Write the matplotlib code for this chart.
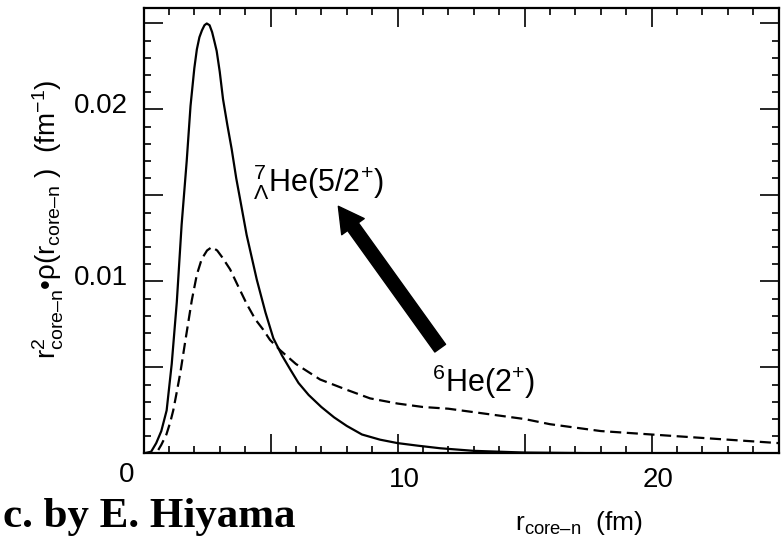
import matplotlib
matplotlib.use("Agg")
import matplotlib.pyplot as plt
import matplotlib.transforms as mtransforms
import numpy as np

plt.rcParams.update({
    "font.family": "Liberation Sans",
    "mathtext.fontset": "custom",
    "mathtext.rm": "Liberation Sans",
    "mathtext.it": "Liberation Sans:italic",
    "mathtext.bf": "Liberation Sans:bold",
})

# 7_Lambda He(5/2+) core-n density (solid)
lam_r = [0.0, 0.3, 0.5, 0.7, 0.91, 1.11, 1.31, 1.5, 1.7, 1.85, 2.0, 2.1, 2.2, 2.3, 2.4,
         2.49, 2.6, 2.7, 2.8, 2.88, 3.0, 3.13, 3.3, 3.47, 3.65, 3.8, 4.06, 4.46, 4.8,
         5.11, 5.45, 5.77, 6.1, 6.5, 7.0, 7.5, 8.0, 8.6, 9.31, 10.0, 10.8, 11.68, 13.0,
         15.0, 18.0, 25.0]
lam_rho = [0.0, 0.0001, 0.0006, 0.0013, 0.0025, 0.0052, 0.0088, 0.0133, 0.0170, 0.0202,
           0.0224, 0.0235, 0.0242, 0.0246, 0.0249, 0.0250, 0.0249, 0.0245, 0.0239, 0.0234,
           0.0222, 0.0206, 0.0191, 0.0177, 0.0160, 0.0148, 0.0127, 0.0101, 0.0082,
           0.0067, 0.0057, 0.0049, 0.0041, 0.0034, 0.0027, 0.0021, 0.0016, 0.0011, 0.0008,
           0.0006, 0.00045, 0.0003, 0.00015, 0.00005, 0.00001, 0.0]

# 6He(2+) core-n density (dashed)
he_r = [0.0, 0.5, 0.7, 0.9, 1.05, 1.17, 1.3, 1.45, 1.63, 1.9, 2.1, 2.29, 2.5, 2.69, 2.9,
        3.1, 3.41, 3.7, 4.06, 4.4, 4.71, 4.98, 5.38, 6.0, 6.95, 8.0, 8.92, 10.0, 11.0,
        12.0, 13.0, 14.0, 15.0, 16.0, 17.0, 18.0, 19.0, 20.0, 21.0, 22.0, 23.0, 24.0, 25.0]
he_rho = [0.0, 0.0, 0.0005, 0.0011, 0.0018, 0.0025, 0.0035, 0.0047, 0.0064, 0.0089, 0.0104,
          0.0113, 0.0118, 0.0120, 0.0118, 0.0114, 0.0107, 0.0098, 0.0087, 0.0078, 0.0072,
          0.0066, 0.0060, 0.0052, 0.0043, 0.0037, 0.0032, 0.0029, 0.0027, 0.0026, 0.0024,
          0.0022, 0.0020, 0.0017, 0.0015, 0.0013, 0.0012, 0.0011, 0.0010, 0.0009, 0.0008,
          0.0007, 0.0006]

x_major = [0, 5, 10, 15, 20, 25]
x_labels = ["", "", "10", "", "20", ""]
y_major = [0.0, 0.005, 0.01, 0.015, 0.02, 0.025]
y_labels = ["", "", "0.01", "", "0.02", ""]

fig = plt.figure(figsize=(7.83, 5.49), dpi=100)
fig.patch.set_facecolor("white")
ax = fig.add_axes([0.1833, 0.1741, 0.811, 0.8113])

ax.plot(lam_r, lam_rho, color="black", lw=1.6, solid_joinstyle="round")
ax.plot(he_r, he_rho, color="black", lw=1.6, linestyle=(0, (5, 2.5)))

ax.set_xlim(0, 25)
ax.set_ylim(0, 0.0259)

ax.set_xticks(x_major, x_labels)
ax.set_xticks(np.arange(0, 26, 1), minor=True)
ax.set_yticks(y_major, y_labels)
ax.set_yticks(np.arange(0, 0.026, 0.001), minor=True)
ax.tick_params(which="both", direction="in", top=True, right=True, labelsize=20)
ax.tick_params(which="major", length=14, width=1.2)
ax.tick_params(which="minor", length=5, width=1.2)
ax.tick_params(axis="x", pad=10)
ax.tick_params(axis="y", pad=11)
for s in ax.spines.values():
    s.set_linewidth(1.6)

# shift tick labels like the original
dx = mtransforms.ScaledTranslation(5 / 72, 0, fig.dpi_scale_trans)
dy = mtransforms.ScaledTranslation(0, 5 / 72, fig.dpi_scale_trans)
for lab in ax.get_xticklabels():
    lab.set_transform(lab.get_transform() + dx)
for lab in ax.get_yticklabels():
    lab.set_transform(lab.get_transform() + dy)

ax.text(-0.015, -0.019, "0", transform=ax.transAxes, ha="right", va="top", fontsize=20)

ax.text(0.585, -0.172, r"r$_{\mathrm{core–n}}$  (fm)", transform=ax.transAxes,
        ha="left", va="baseline", fontsize=19)

ax.set_ylabel(r"r$^{2}_{\mathrm{core–n}}$•ρ(r$_{\mathrm{core–n}}$ )  (fm$^{-1}$)", fontsize=20)
ax.yaxis.set_label_coords(-0.122, 0.525)

# arrow from 6He to 7LHe
ax.annotate("", xy=(7.67, 0.01437), xytext=(11.68, 0.00612),
            arrowprops=dict(arrowstyle="simple,head_width=1.05,head_length=0.95,tail_width=0.5",
                            mutation_scale=19, fc="black", ec="black",
                            shrinkA=0, shrinkB=0))

ax.text(4.31, 0.01522, r"${}^{7}_{\Lambda}$He(5/2$^{+}$)", fontsize=22, ha="left", va="baseline")
ax.text(11.36, 0.00358, r"${}^{6}$He(2$^{+}$)", fontsize=22, ha="left", va="baseline")

fig.text(0.004, 0.04, "c. by E. Hiyama", family="Liberation Serif", fontweight="bold",
         fontsize=31, ha="left", va="baseline")

fig.savefig("out.png", dpi=100, facecolor="white")
